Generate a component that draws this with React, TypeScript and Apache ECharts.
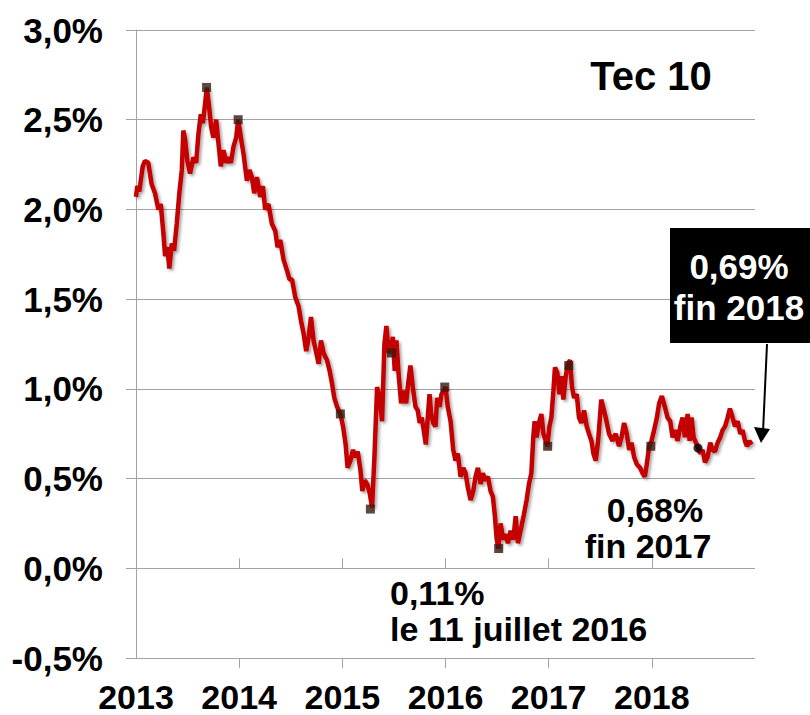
import React, { useEffect, useRef } from "react";
import * as echarts from "echarts";

// Tec 10 daily-ish path, decimal years
const years = [
  2013.000, 2013.013, 2013.032, 2013.046, 2013.065, 2013.087, 2013.119, 2013.152, 2013.184, 2013.217,
  2013.240, 2013.265, 2013.282, 2013.304, 2013.323, 2013.347, 2013.369, 2013.395, 2013.420, 2013.444,
  2013.459, 2013.476, 2013.498, 2013.524, 2013.556, 2013.583, 2013.605, 2013.628, 2013.648, 2013.670,
  2013.686, 2013.709, 2013.728, 2013.750, 2013.777, 2013.799, 2013.822, 2013.848, 2013.874, 2013.896,
  2013.919, 2013.945, 2013.971, 2013.990, 2014.017, 2014.042, 2014.075, 2014.100, 2014.123, 2014.146,
  2014.172, 2014.204, 2014.230, 2014.252, 2014.284, 2014.317, 2014.350, 2014.372, 2014.398, 2014.430,
  2014.463, 2014.488, 2014.512, 2014.544, 2014.576, 2014.599, 2014.624, 2014.650, 2014.673, 2014.696,
  2014.721, 2014.748, 2014.770, 2014.793, 2014.818, 2014.851, 2014.877, 2014.900, 2014.922, 2014.949,
  2014.981, 2015.007, 2015.032, 2015.051, 2015.078, 2015.104, 2015.126, 2015.149, 2015.175, 2015.194,
  2015.217, 2015.240, 2015.265, 2015.288, 2015.311, 2015.337, 2015.362, 2015.385, 2015.408, 2015.427,
  2015.450, 2015.473, 2015.489, 2015.508, 2015.524, 2015.547, 2015.570, 2015.595, 2015.618, 2015.638,
  2015.660, 2015.683, 2015.709, 2015.731, 2015.750, 2015.770, 2015.789, 2015.809, 2015.828, 2015.845,
  2015.861, 2015.881, 2015.903, 2015.919, 2015.942, 2015.961, 2015.983, 2016.000, 2016.022, 2016.049,
  2016.075, 2016.097, 2016.119, 2016.146, 2016.172, 2016.194, 2016.217, 2016.243, 2016.269, 2016.291,
  2016.314, 2016.340, 2016.362, 2016.388, 2016.411, 2016.437, 2016.459, 2016.479, 2016.495, 2016.512,
  2016.534, 2016.560, 2016.583, 2016.605, 2016.631, 2016.657, 2016.680, 2016.702, 2016.735, 2016.760,
  2016.786, 2016.809, 2016.832, 2016.851, 2016.864, 2016.883, 2016.906, 2016.929, 2016.949, 2016.971,
  2016.987, 2017.007, 2017.026, 2017.046, 2017.061, 2017.084, 2017.104, 2017.123, 2017.143, 2017.165,
  2017.187, 2017.207, 2017.226, 2017.246, 2017.272, 2017.294, 2017.317, 2017.343, 2017.369, 2017.391,
  2017.415, 2017.434, 2017.456, 2017.479, 2017.510, 2017.553, 2017.585, 2017.618, 2017.650, 2017.682,
  2017.706, 2017.731, 2017.757, 2017.780, 2017.803, 2017.828, 2017.854, 2017.886, 2017.910, 2017.932,
  2017.951, 2017.974, 2017.997, 2018.022, 2018.049, 2018.071, 2018.097, 2018.126, 2018.152, 2018.178,
  2018.201, 2018.223, 2018.250, 2018.275, 2018.298, 2018.320, 2018.347, 2018.366, 2018.385, 2018.405,
  2018.427, 2018.444, 2018.469, 2018.492, 2018.515, 2018.541, 2018.566, 2018.589, 2018.612, 2018.638,
  2018.663, 2018.686, 2018.709, 2018.735, 2018.757, 2018.783, 2018.806, 2018.832, 2018.857, 2018.880,
  2018.903, 2018.922, 2018.945, 2018.968,
];
const rates = [
  2.07, 2.13, 2.10, 2.16, 2.24, 2.27, 2.26, 2.14, 2.09, 2.00,
  2.03, 1.87, 1.74, 1.79, 1.67, 1.81, 1.77, 1.92, 2.09, 2.22,
  2.44, 2.39, 2.27, 2.20, 2.29, 2.26, 2.42, 2.53, 2.48, 2.59,
  2.68, 2.57, 2.46, 2.40, 2.50, 2.37, 2.24, 2.33, 2.26, 2.29,
  2.26, 2.35, 2.40, 2.50, 2.40, 2.31, 2.16, 2.22, 2.18, 2.09,
  2.18, 2.07, 2.13, 2.00, 2.03, 1.92, 1.88, 1.79, 1.83, 1.72,
  1.66, 1.61, 1.61, 1.51, 1.46, 1.38, 1.31, 1.21, 1.29, 1.40,
  1.27, 1.20, 1.14, 1.27, 1.20, 1.16, 1.10, 1.03, 0.95, 0.90,
  0.86, 0.79, 0.69, 0.56, 0.60, 0.66, 0.62, 0.65, 0.55, 0.43,
  0.49, 0.47, 0.42, 0.34, 0.62, 1.01, 0.95, 0.82, 1.25, 1.35,
  1.20, 1.22, 1.29, 1.10, 1.27, 1.07, 0.92, 0.99, 0.92, 1.03,
  1.13, 1.01, 0.90, 0.88, 0.81, 0.84, 0.77, 0.69, 0.84, 0.97,
  0.86, 0.81, 0.79, 0.95, 0.90, 0.97, 0.99, 1.01, 0.90, 0.82,
  0.66, 0.60, 0.64, 0.51, 0.56, 0.53, 0.45, 0.38, 0.43, 0.51,
  0.56, 0.47, 0.53, 0.49, 0.51, 0.43, 0.40, 0.29, 0.17, 0.11,
  0.25, 0.16, 0.19, 0.14, 0.21, 0.16, 0.29, 0.14, 0.23, 0.30,
  0.38, 0.47, 0.53, 0.73, 0.82, 0.73, 0.81, 0.86, 0.75, 0.71,
  0.68, 0.79, 0.84, 0.99, 1.12, 1.09, 0.97, 1.07, 0.94, 1.07,
  1.14, 1.16, 1.01, 0.95, 0.97, 0.84, 0.81, 0.88, 0.79, 0.75,
  0.71, 0.64, 0.60, 0.71, 0.94, 0.84, 0.75, 0.71, 0.75, 0.68,
  0.73, 0.81, 0.75, 0.66, 0.70, 0.62, 0.58, 0.56, 0.53, 0.51,
  0.58, 0.68, 0.71, 0.77, 0.84, 0.92, 0.96, 0.90, 0.84, 0.82,
  0.73, 0.77, 0.71, 0.79, 0.84, 0.73, 0.86, 0.71, 0.84, 0.73,
  0.70, 0.68, 0.64, 0.66, 0.59, 0.62, 0.70, 0.66, 0.65, 0.70,
  0.73, 0.77, 0.79, 0.84, 0.89, 0.84, 0.79, 0.82, 0.75, 0.77,
  0.71, 0.68, 0.71, 0.69,
];

// highlighted points (squares)
const markerYears = [2013.684, 2013.990, 2014.981, 2015.272, 2015.476, 2015.993, 2016.515, 2016.990, 2017.194, 2017.990];
const markerRates = [2.68, 2.50, 0.86, 0.33, 1.20, 1.01, 0.11, 0.68, 1.13, 0.68];
// round point
const dotYears = [2018.447];
const dotRates = [0.67];

const yearLabels = [2013, 2014, 2015, 2016, 2017, 2018];
const tickYears = [2014, 2015, 2016, 2017, 2018];

const FONT = "'Liberation Sans', Arial, sans-serif";

export default function App() {
  const ref = useRef<HTMLDivElement>(null);
  useEffect(() => {
    document.body.style.margin = "0";
    const chart = echarts.init(ref.current!, null, { renderer: "svg" });
    const gridColor = "#a3a3a3";
    const txt = (text: string, x: number, y: number, size: number, align: string, fill = "#000") => ({
      type: "text",
      x,
      y,
      z: 100,
      style: {
        text,
        fill,
        font: `bold ${size}px ${FONT}`,
        textAlign: align,
        textVerticalAlign: "middle",
        align,
        verticalAlign: "middle",
      },
    });
    chart.setOption({
      animation: false,
      backgroundColor: "#ffffff",
      grid: { left: 136, right: 55, top: 30, bottom: 57 },
      xAxis: [
        {
          type: "value",
          min: 2013,
          max: 2019,
          position: "bottom",
          axisLine: { show: false, onZero: false },
          axisTick: { show: false },
          splitLine: { show: false },
          axisLabel: {
            customValues: yearLabels,
            formatter: (v: number) => String(Math.round(v)),
            fontSize: 34,
            fontWeight: "bold",
            fontFamily: FONT,
            color: "#000",
            margin: 22,
          },
        },
        {
          type: "value",
          min: 2013,
          max: 2019,
          position: "bottom",
          axisLine: { show: false, onZero: true },
          axisTick: { show: true, inside: true, length: 10, customValues: tickYears, lineStyle: { color: gridColor } },
          axisLabel: { show: false },
          splitLine: { show: false },
        },
        {
          type: "value",
          min: 2013,
          max: 2019,
          position: "bottom",
          axisLine: { show: false, onZero: true },
          axisTick: { show: true, inside: false, length: 10, customValues: tickYears, lineStyle: { color: gridColor } },
          axisLabel: { show: false },
          splitLine: { show: false },
        },
      ],
      yAxis: {
        type: "value",
        min: -0.5,
        max: 3.0,
        interval: 0.5,
        axisLine: { show: true, lineStyle: { color: gridColor } },
        axisTick: { show: true, length: 10, lineStyle: { color: gridColor } },
        splitLine: { show: true, lineStyle: { color: gridColor, width: 1 } },
        axisLabel: {
          formatter: (v: number) => v.toFixed(1).replace(".", ",") + "%",
          fontSize: 35,
          fontWeight: "bold",
          fontFamily: FONT,
          color: "#000",
          margin: 33,
        },
      },
      series: [
        {
          type: "line",
          xAxisIndex: 0,
          data: years.map((y, i) => [y, rates[i]]),
          showSymbol: false,
          symbol: "none",
          lineStyle: {
            color: "#c40000",
            width: 4.5,
            shadowColor: "rgba(0,0,0,0.35)",
            shadowBlur: 3,
            shadowOffsetX: 2,
            shadowOffsetY: 2,
          },
          z: 2,
        },
        {
          type: "scatter",
          xAxisIndex: 0,
          data: markerYears.map((y, i) => [y, markerRates[i]]),
          symbol: "rect",
          symbolSize: 9,
          itemStyle: { color: "#3a1a0f" },
          z: 3,
        },
        {
          type: "scatter",
          xAxisIndex: 0,
          data: dotYears.map((y, i) => [y, dotRates[i]]),
          symbol: "circle",
          symbolSize: 9,
          itemStyle: { color: "#000" },
          z: 3,
        },
      ],
      graphic: [
        txt("Tec 10", 651, 76, 40, "center"),
        txt("0,68%", 655, 510, 34, "center"),
        txt("fin 2017", 648, 546, 34, "center"),
        txt("0,11%", 390, 593, 34, "left"),
        txt("le 11 juillet 2016", 390, 629, 34, "left"),
        {
          type: "rect",
          shape: { x: 670, y: 228, width: 140, height: 115 },
          style: { fill: "#000" },
          z: 90,
        },
        txt("0,69%", 739, 266, 35, "center", "#fff"),
        txt("fin 2018", 739, 307, 35, "center", "#fff"),
        {
          type: "line",
          shape: { x1: 767, y1: 344, x2: 763, y2: 432 },
          style: { stroke: "#000", lineWidth: 2 },
          z: 90,
        },
        {
          type: "polygon",
          shape: { points: [[754, 427], [770, 429], [761, 443]] },
          style: { fill: "#000" },
          z: 90,
        },
      ],
    });
    return () => chart.dispose();
  }, []);
  return <div ref={ref} style={{ position: "absolute", left: 0, top: 0, width: 810, height: 715 }} />;
}
